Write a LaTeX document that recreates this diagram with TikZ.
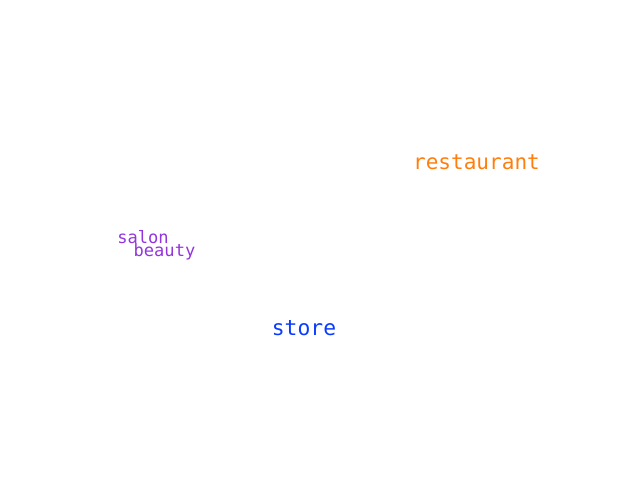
\documentclass[tikz,border=0pt]{standalone}
\usepackage{fontspec}
\setmonofont{DejaVu Sans Mono}
\definecolor{orangeword}{RGB}{255,127,14}
\definecolor{purpleword}{RGB}{148,52,220}
\definecolor{blueword}{RGB}{10,60,255}
\tikzset{word/.style={inner sep=0pt, font=\ttfamily}}
\begin{document}
\begin{tikzpicture}[x=0.75pt, y=0.75pt]
                \useasboundingbox (0,0) rectangle (640,480);

                \node[word, text=orangeword, font=\ttfamily\fontsize{15.8}{18}\selectfont] (restaurant) at (476.5,318) {restaurant};
                \node[word, text=purpleword, font=\ttfamily\fontsize{12.8}{15}\selectfont] (salon) at (143,242.5) {salon};
                \node[word, text=purpleword, font=\ttfamily\fontsize{12.8}{15}\selectfont] (beauty) at (164.5,228) {beauty};
                \node[word, text=blueword, font=\ttfamily\fontsize{16}{19}\selectfont] (store) at (304,152) {store};
            \end{tikzpicture}
\end{document}
